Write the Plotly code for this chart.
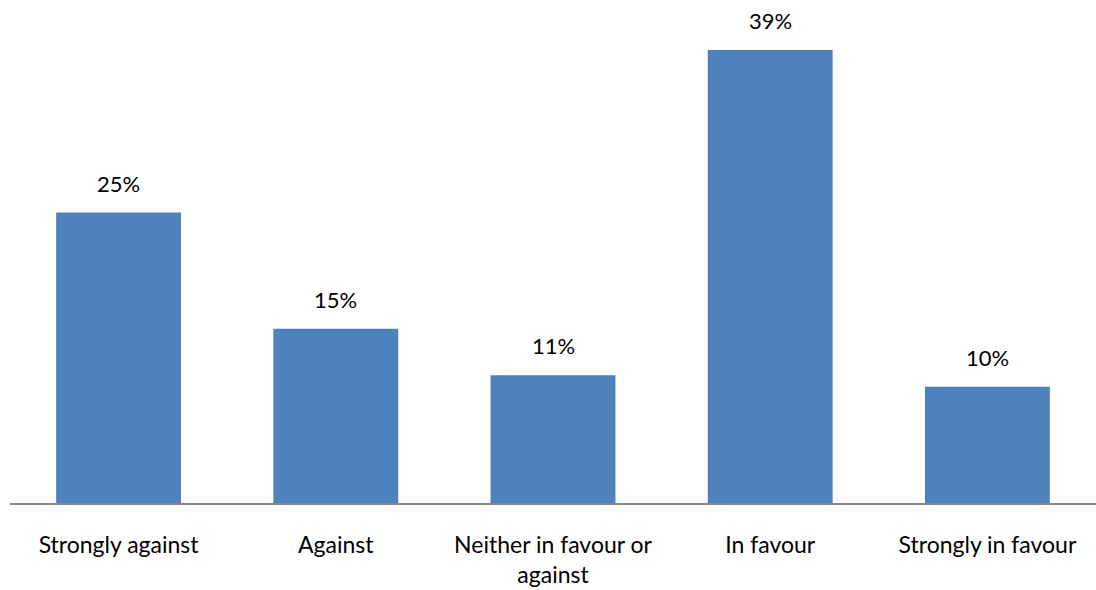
import plotly.graph_objects as go

categories = ["Strongly against", "Against", "Neither in favour or<br>against", "In favour", "Strongly in favour"]
values = [25, 15, 11, 39, 10]
labels = ["25%", "15%", "11%", "39%", "10%"]

FONT = "Lato"

fig = go.Figure()
fig.add_trace(go.Bar(x=categories, y=values, marker=dict(color="#4F81BD", line=dict(width=0)),
                     hoverinfo="skip"))

for c, v, t in zip(categories, values, labels):
    fig.add_annotation(x=c, y=v, text=t, showarrow=False, yanchor="bottom", yshift=14,
                       font=dict(family=FONT, size=22, color="#000000"))

fig.update_layout(
    width=1096, height=590,
    margin=dict(l=10, r=0, t=0, b=87),
    plot_bgcolor="white", paper_bgcolor="white",
    bargap=0.425,
    showlegend=False,
    font=dict(family=FONT, size=24, color="#000000"),
)
fig.update_xaxes(showline=True, linecolor="#868686", linewidth=1.5, ticks="", showgrid=False,
                 automargin=False,
                 tickfont=dict(family=FONT, size=23, color="#000000"), ticklabelstandoff=21)
fig.update_yaxes(range=[0, 43.3], visible=False, showgrid=False, zeroline=False, automargin=False)

fig.write_html("out.html")
